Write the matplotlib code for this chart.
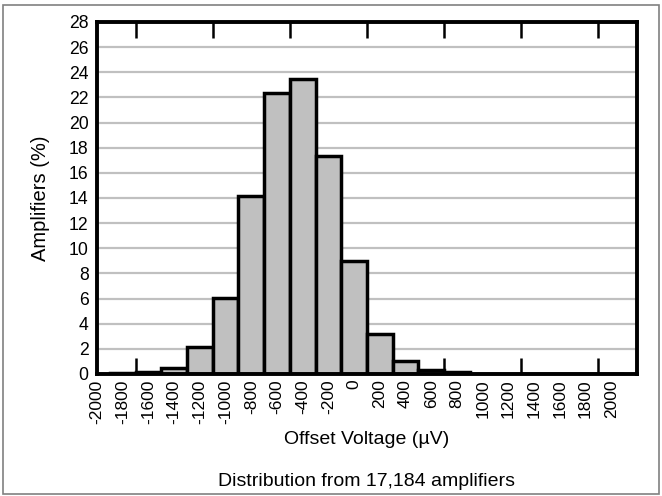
import matplotlib
matplotlib.use("Agg")
import matplotlib.pyplot as plt
from matplotlib.patches import Rectangle
from matplotlib.ticker import FixedLocator

plt.rcParams['font.family'] = ['Liberation Sans', 'DejaVu Sans']

# Data
bin_centers = [-2000, -1800, -1600, -1400, -1200, -1000, -800, -600, -400, -200,
               0, 200, 400, 600, 800, 1000, 1200, 1400, 1600, 1800, 2000]
percent = [0.0, 0.05, 0.12, 0.45, 2.15, 6.05, 14.15, 22.35, 23.45, 17.35,
           8.95, 3.2, 1.0, 0.35, 0.12, 0.0, 0.0, 0.0, 0.0, 0.0, 0.0]
x_tick_labels = [str(v) for v in bin_centers]
y_ticks = list(range(0, 29, 2))
minor_ticks = list(range(-1700, 2000, 300))

fig = plt.figure(figsize=(6.62, 4.96), dpi=100)
ax = fig.add_axes([97/662, 1-374/496, 540/662, 352/496])
ax.set_axisbelow(True)

ax.set_xlim(-2000, 2200)
ax.set_ylim(0, 28)

for y in y_ticks[1:-1]:
    ax.axhline(y, color='#c0c0c0', lw=1.6, zorder=1)

ax.bar(bin_centers, percent, width=200, align='center', color='#c0c0c0',
       edgecolor='black', linewidth=2.5, zorder=2)

ax.set_xticks(bin_centers)
ax.set_xticklabels(x_tick_labels, rotation=90, fontsize=12.5)
ax.xaxis.set_minor_locator(FixedLocator(minor_ticks))
ax.tick_params(axis='x', which='major', length=0, pad=4)
ax.tick_params(axis='x', which='minor', direction='in', length=11.5, width=1.8,
               top=True, bottom=True, color='black')
ax.set_yticks(y_ticks)
ax.set_yticklabels([str(v) for v in y_ticks], fontsize=12.7)
ax.tick_params(axis='y', length=0, pad=6)

for s in ax.spines.values():
    s.set_linewidth(2.8)
    s.set_color('black')
    s.set_zorder(5)

ax.set_ylabel('Amplifiers (%)', fontsize=14.5, va='center')
ax.yaxis.set_label_coords((40-97)/540, 0.5)
ax.set_xlabel('Offset Voltage (µV)', fontsize=14, va='center')
ax.xaxis.set_label_coords((367-97)/540, (374-440)/352)

fig.text(367/662, 1-481/496, 'Distribution from 17,184 amplifiers',
         ha='center', va='center', fontsize=14)

fig.patches.append(Rectangle((3/662, 2/496), 656/662, 489/496,
                             transform=fig.transFigure, fill=False,
                             edgecolor='#808080', linewidth=1.2))

fig.savefig('out.png', dpi=100)
